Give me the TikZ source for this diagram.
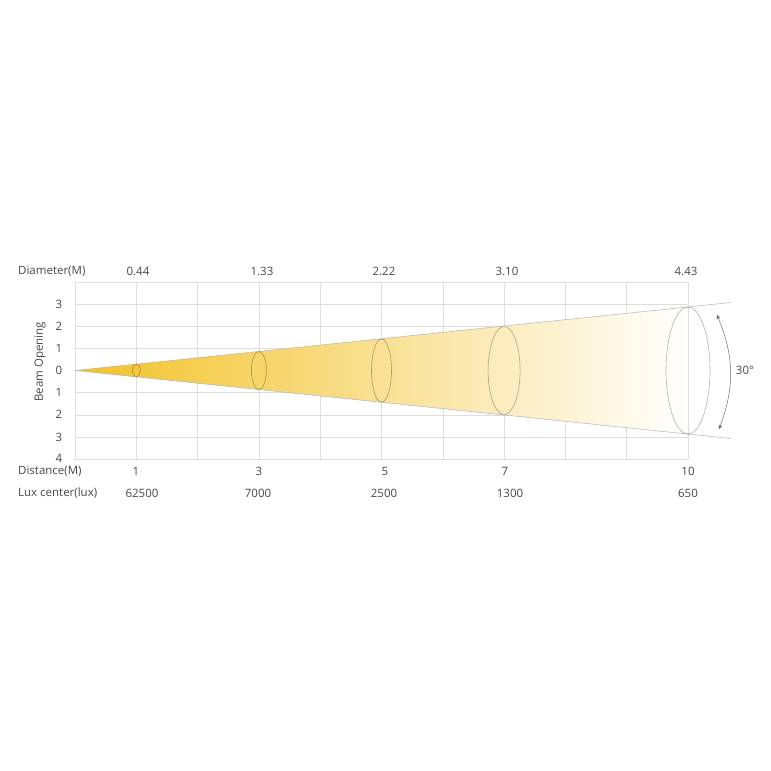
\documentclass[tikz,border=0pt]{standalone}
\usepackage{fontspec}
\setmainfont{Open Sans}
\usepackage{tikz}
\usetikzlibrary{arrows,calc,shapes.geometric}
\definecolor{txtgray}{RGB}{72,72,72}
\definecolor{gridgray}{RGB}{222,222,222}
\definecolor{beamgold}{RGB}{243,194,40}
\definecolor{beammid}{RGB}{248,224,145}
\definecolor{edgegray}{RGB}{180,180,180}
\definecolor{arcgray}{RGB}{110,110,110}
\tikzset{>=stealth',
	lbl/.style={inner sep=1pt,text=txtgray,font=\fontsize{11.5}{13}\selectfont},
	rowlbl/.style={lbl,anchor=west},
	gridline/.style={draw=gridgray,line width=0.6pt},
	ring/.style={ellipse,draw=black,draw opacity=0.3,line width=0.6pt,inner sep=0pt,outer sep=0pt},
	beamline/.style={draw=edgegray,line width=0.5pt},
	anglearc/.style={draw=arcgray,line width=0.5pt}}

\begin{document}
\begin{tikzpicture}[x=1pt,y=-1pt]
	\useasboundingbox [fill=white] (0,0) rectangle (771,771);
	% grid
	\draw [gridline] (75,282) -- (688,282) (75,304.1) -- (688,304.1) (75,326.3) -- (688,326.3)
		(75,348.4) -- (688,348.4) (75,370.5) -- (688,370.5) (75,392.6) -- (688,392.6)
		(75,414.8) -- (688,414.8) (75,436.9) -- (688,436.9) (75,459) -- (688,459);
	\draw [gridline] (75,282) -- (75,459) (136.3,282) -- (136.3,459) (197.6,282) -- (197.6,459)
		(258.9,282) -- (258.9,459) (320.2,282) -- (320.2,459) (381.5,282) -- (381.5,459)
		(442.8,282) -- (442.8,459) (504.1,282) -- (504.1,459) (565.4,282) -- (565.4,459)
		(626.7,282) -- (626.7,459) (688,282) -- (688,459);
	% beam
	\coordinate (apex) at (75,370.5);
	\coordinate (tip1) at (688,307);
	\coordinate (tip2) at (688,434);
	\coordinate (end1) at (731,302.5);
	\coordinate (end2) at (731,438.5);
	\shade [left color=beamgold, middle color=beammid, right color=white] (apex) -- (tip1) -- (tip2) -- cycle;
	\draw [beamline] (apex) -- (end1);
	\draw [beamline] (apex) -- (end2);
	\node (r1) at (136.3,370.5) [ring,minimum width=8pt,minimum height=12.6pt] {};
	\node (r3) at (258.9,370.5) [ring,minimum width=15pt,minimum height=38pt] {};
	\node (r5) at (381.5,370.5) [ring,minimum width=20pt,minimum height=63pt] {};
	\node (r7) at (504.1,370.5) [ring,minimum width=32pt,minimum height=88pt] {};
	\node (r10) at (688,370.5) [ring,minimum width=44pt,minimum height=127pt] {};
	% opening angle
	\coordinate (a1) at (717,315);
	\coordinate (a2) at (719,429);
	\draw [anglearc,<->] (a1) to [bend left=22] (a2);
	\node (ang) at (745,370) [lbl] {30°};
	% top row
	\node (dia) at (17,271) [rowlbl] {Diameter(M)};
	\node (dia1) at (138,271) [lbl] {0.44};
	\node (dia3) at (262,271) [lbl] {1.33};
	\node (dia5) at (384,271) [lbl] {2.22};
	\node (dia7) at (507,271) [lbl] {3.10};
	\node (dia10) at (686,271) [lbl] {4.43};
	% side axis
	\node (bo) at (40,362) [lbl,rotate=90] {Beam Opening};
	\node (yu3) at (59,304.1) [lbl] {3};
	\node (yu2) at (59,326.3) [lbl] {2};
	\node (yu1) at (59,348.4) [lbl] {1};
	\node (y0) at (59,370.5) [lbl] {0};
	\node (yd1) at (59,392.6) [lbl] {1};
	\node (yd2) at (59,414.8) [lbl] {2};
	\node (yd3) at (59,436.9) [lbl] {3};
	\node (yd4) at (59,458) [lbl] {4};
	% bottom rows
	\node (dist) at (17,471) [rowlbl] {Distance(M)};
	\node (dist1) at (136,471) [lbl] {1};
	\node (dist3) at (259,471) [lbl] {3};
	\node (dist5) at (385,471) [lbl] {5};
	\node (dist7) at (505,471) [lbl] {7};
	\node (dist10) at (688,471) [lbl] {10};
	\node (lux) at (17,493) [rowlbl] {Lux center(lux)};
	\node (lux1) at (142,493) [lbl] {62500};
	\node (lux3) at (258,493) [lbl] {7000};
	\node (lux5) at (384,493) [lbl] {2500};
	\node (lux7) at (510,493) [lbl] {1300};
	\node (lux10) at (688,493) [lbl] {650};
\end{tikzpicture}
\end{document}
